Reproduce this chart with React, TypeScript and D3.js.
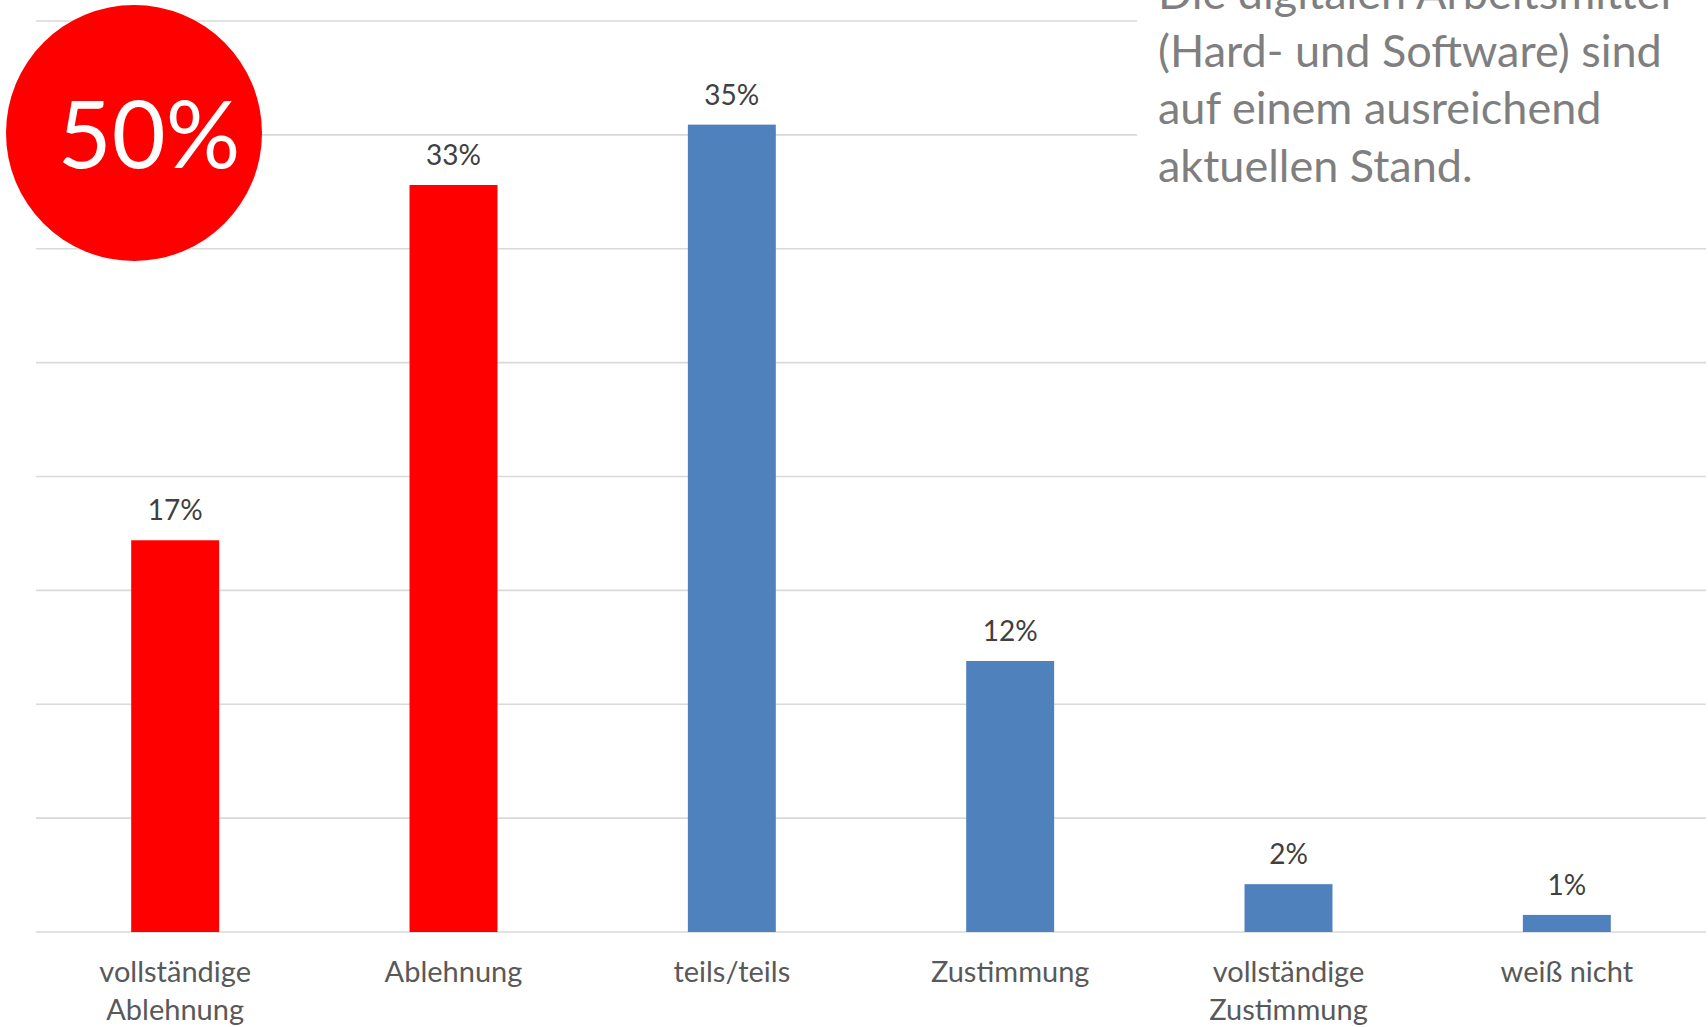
import React from "react";
import * as d3 from "d3";

const categories: string[][] = [
  ["vollständige", "Ablehnung"],
  ["Ablehnung"],
  ["teils/teils"],
  ["Zustimmung"],
  ["vollständige", "Zustimmung"],
  ["weiß nicht"],
];
const values: number[] = [0.172, 0.328, 0.3545, 0.119, 0.021, 0.0075];
const barColors: string[] = ["#ff0000", "#ff0000", "#4f81bd", "#4f81bd", "#4f81bd", "#4f81bd"];
const gridTicks: number[] = [0, 0.05, 0.1, 0.15, 0.2, 0.25, 0.3, 0.35, 0.4];
const titleLines: string[] = [
  "Die digitalen Arbeitsmittel",
  "(Hard- und Software) sind",
  "auf einem ausreichend",
  "aktuellen Stand.",
];
const badgeText = "50%";

const W = 1708;
const H = 1027;
const FONT = "Lato, 'Open Sans', sans-serif";

export default function App() {
  const x = d3
    .scaleBand<number>()
    .domain(d3.range(values.length))
    .range([36, 1706])
    .paddingInner(0.684)
    .paddingOuter(0.342);
  const y = d3.scaleLinear().domain([0, 0.4]).range([932, 21]);
  const fmt = d3.format(".0%");

  return (
    <svg
      width={W}
      height={H}
      style={{ position: "absolute", left: 0, top: 0, background: "#fff" }}
      fontFamily={FONT}
    >
      <rect x={0} y={0} width={W} height={H} fill="#fff" />
      {gridTicks.map((t) => (
        <line
          key={t}
          x1={36}
          x2={1706}
          y1={y(t)}
          y2={y(t)}
          stroke="#d9d9d9"
          strokeWidth={1.6}
        />
      ))}
      {values.map((v, i) => (
        <rect
          key={i}
          x={x(i)}
          y={y(v)}
          width={x.bandwidth()}
          height={y(0) - y(v)}
          fill={barColors[i]}
        />
      ))}
      {values.map((v, i) => (
        <text
          key={"v" + i}
          x={(x(i) as number) + x.bandwidth() / 2}
          y={y(v) - 20}
          textAnchor="middle"
          fontSize={28}
          fill="#404040"
        >
          {fmt(v)}
        </text>
      ))}
      {categories.map((lines, i) => (
        <text
          key={"c" + i}
          x={(x(i) as number) + x.bandwidth() / 2}
          y={982}
          textAnchor="middle"
          fontSize={29}
          fill="#595959"
        >
          {lines.map((l, j) => (
            <tspan key={j} x={(x(i) as number) + x.bandwidth() / 2} dy={j === 0 ? 0 : 38}>
              {l}
            </tspan>
          ))}
        </text>
      ))}
      <rect x={1137} y={0} width={W - 1137} height={200} fill="#fff" />
      <text x={1158} y={9} fontSize={45} fill="#7f7f7f">
        {titleLines.map((l, j) => (
          <tspan key={j} x={1158} dy={j === 0 ? 0 : 57.5}>
            {l}
          </tspan>
        ))}
      </text>
      <circle cx={134} cy={133} r={128} fill="#ff0000" />
      <text x={149} y={168} textAnchor="middle" fontSize={93} fill="#fff">
        {badgeText}
      </text>
    </svg>
  );
}
